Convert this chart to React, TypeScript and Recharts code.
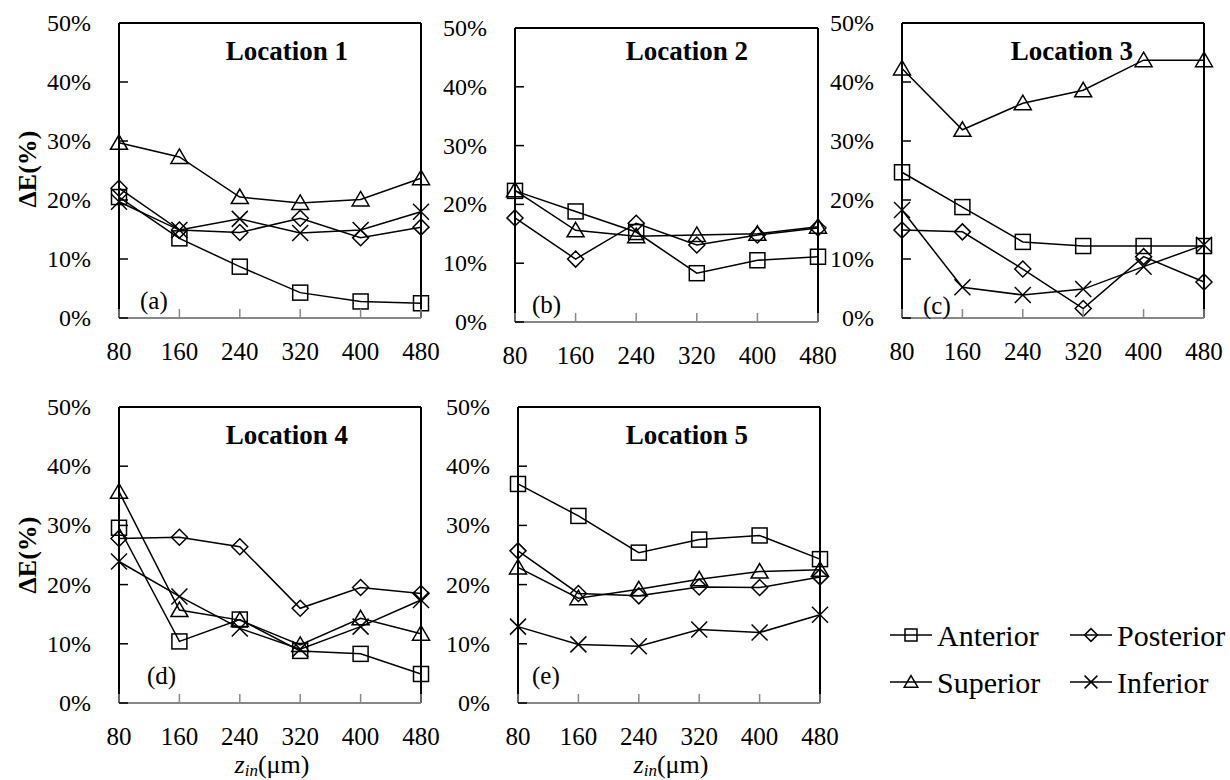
import React from 'react';
import { LineChart, Line, XAxis, YAxis, ReferenceLine } from 'recharts';

const ZIN = [80, 160, 240, 320, 400, 480];
const Y_TICKS = [0, 10, 20, 30, 40, 50];
const SERIES = ['Anterior', 'Posterior', 'Superior', 'Inferior'];

// ΔE (%) per location, one array per direction
const LOC1_ANTERIOR = [20.5, 13.5, 8.7, 4.3, 2.8, 2.5];
const LOC1_POSTERIOR = [22.0, 14.9, 14.5, 16.9, 13.6, 15.4];
const LOC1_SUPERIOR = [29.7, 27.3, 20.5, 19.5, 20.1, 23.7];
const LOC1_INFERIOR = [19.7, 14.9, 16.8, 14.4, 14.9, 18.0];

const LOC2_ANTERIOR = [22.3, 18.8, 15.3, 8.3, 10.5, 11.1];
const LOC2_POSTERIOR = [17.7, 10.7, 16.8, 13.1, 14.8, 16.0];
const LOC2_SUPERIOR = [22.4, 15.6, 14.6, 14.8, 15.0, 16.2];
const LOC2_INFERIOR: number[] = []; // not plotted at location 2

const LOC3_ANTERIOR = [24.7, 18.8, 12.9, 12.2, 12.2, 12.2];
const LOC3_POSTERIOR = [14.9, 14.6, 8.3, 1.6, 10.4, 6.1];
const LOC3_SUPERIOR = [42.3, 31.9, 36.4, 38.6, 43.7, 43.7];
const LOC3_INFERIOR = [18.3, 5.2, 3.9, 4.9, 8.7, 12.4];

const LOC4_ANTERIOR = [29.6, 10.4, 14.1, 8.8, 8.3, 4.9];
const LOC4_POSTERIOR = [27.8, 28.0, 26.4, 16.0, 19.5, 18.5];
const LOC4_SUPERIOR = [35.7, 15.7, 14.0, 9.8, 14.3, 11.7];
const LOC4_INFERIOR = [23.9, 18.0, 12.6, 9.1, 12.9, 17.4];

const LOC5_ANTERIOR = [37.0, 31.6, 25.4, 27.6, 28.3, 24.3];
const LOC5_POSTERIOR = [25.7, 18.5, 18.1, 19.6, 19.5, 21.3];
const LOC5_SUPERIOR = [22.9, 17.7, 19.2, 20.9, 22.2, 22.5];
const LOC5_INFERIOR = [12.9, 9.9, 9.6, 12.4, 11.9, 14.9];

const FONT = 'Liberation Serif, Tinos, Times New Roman, DejaVu Serif, serif';
const SHAPES = ['square', 'diamond', 'triangle', 'cross'];

const buildRows = (a: number[], p: number[], s: number[], inf: number[]) =>
  ZIN.map((z, i) => ({ zin: z, Anterior: a[i], Posterior: p[i], Superior: s[i], Inferior: inf[i] }));

// plot-area boxes (left, top, right, bottom) in page pixels
const PANELS = [
  { title: 'Location 1', tag: '(a)', box: [119, 23, 421, 318], titleAt: [287, 51], tagAt: [140, 300], series: SERIES, rows: buildRows(LOC1_ANTERIOR, LOC1_POSTERIOR, LOC1_SUPERIOR, LOC1_INFERIOR) },
  { title: 'Location 2', tag: '(b)', box: [515, 28, 818, 322], titleAt: [687, 51], tagAt: [532, 304], series: SERIES.slice(0, 3), rows: buildRows(LOC2_ANTERIOR, LOC2_POSTERIOR, LOC2_SUPERIOR, LOC2_INFERIOR) },
  { title: 'Location 3', tag: '(c)', box: [902, 23, 1204, 318], titleAt: [1072, 51], tagAt: [923, 305], series: SERIES, rows: buildRows(LOC3_ANTERIOR, LOC3_POSTERIOR, LOC3_SUPERIOR, LOC3_INFERIOR) },
  { title: 'Location 4', tag: '(d)', box: [119, 407, 421, 703], titleAt: [287, 435], tagAt: [147, 675], series: SERIES, rows: buildRows(LOC4_ANTERIOR, LOC4_POSTERIOR, LOC4_SUPERIOR, LOC4_INFERIOR) },
  { title: 'Location 5', tag: '(e)', box: [518, 407, 820, 703], titleAt: [687, 435], tagAt: [532, 675], series: SERIES, rows: buildRows(LOC5_ANTERIOR, LOC5_POSTERIOR, LOC5_SUPERIOR, LOC5_INFERIOR) },
];

const PAD_L = 100;
const PAD_T = 20;
const PAD_R = 20;
const PAD_B = 60;
const Y_GAP = 28;
const X_GAP = 20;

const Marker = ({ shape, cx, cy, k = 1 }: { shape: string; cx: number; cy: number; k?: number }) => {
  const common = { fill: 'none', stroke: '#000', strokeWidth: 1.5 };
  if (shape === 'square') {
    const h = 7.5 * k;
    return <rect x={cx - h} y={cy - h} width={2 * h} height={2 * h} {...common} />;
  }
  if (shape === 'diamond') {
    const h = 8 * k;
    return <polygon points={`${cx},${cy - h} ${cx + h},${cy} ${cx},${cy + h} ${cx - h},${cy}`} {...common} />;
  }
  if (shape === 'triangle') {
    const w = 8.5 * k;
    return <polygon points={`${cx},${cy - 8 * k} ${cx + w},${cy + 6.5 * k} ${cx - w},${cy + 6.5 * k}`} {...common} />;
  }
  const h = 8 * k;
  return (
    <g {...common}>
      <line x1={cx - h} y1={cy - h} x2={cx + h} y2={cy + h} />
      <line x1={cx - h} y1={cy + h} x2={cx + h} y2={cy - h} />
    </g>
  );
};

const YTick = (props: any) => {
  const { x, y, payload } = props;
  return (
    <g>
      <line x1={x + Y_GAP} x2={x + Y_GAP + 9} y1={y} y2={y} stroke="#000" strokeWidth={1.5} />
      <text x={x} y={y} textAnchor="end" dominantBaseline="central" style={{ fontSize: 24, fontFamily: FONT }} fill="#000">
        {payload.value}%
      </text>
    </g>
  );
};

const XTick = (props: any) => {
  const { x, y, payload } = props;
  return (
    <g>
      <line x1={x} x2={x} y1={y - X_GAP} y2={y - X_GAP - 9} stroke="#888" strokeWidth={1.5} />
      <text x={x} y={y + 13} textAnchor="middle" dominantBaseline="central" style={{ fontSize: 25, fontFamily: FONT }} fill="#000">
        {payload.value}
      </text>
    </g>
  );
};

const Panel = ({ panel }: { panel: (typeof PANELS)[number] }) => {
  const [l, t, r, b] = panel.box;
  const width = r - l + PAD_L + PAD_R;
  const height = b - t + PAD_T + PAD_B;
  return (
    <div style={{ position: 'absolute', left: l - PAD_L, top: t - PAD_T }}>
      <LineChart width={width} height={height} data={panel.rows} margin={{ top: PAD_T, right: PAD_R, bottom: 0, left: 0 }}>
        <XAxis
          dataKey="zin"
          type="number"
          domain={[80, 480]}
          ticks={ZIN}
          interval={0}
          height={PAD_B}
          tickSize={0}
          tickMargin={X_GAP}
          tickLine={false}
          axisLine={{ stroke: '#888', strokeWidth: 2 }}
          tick={<XTick />}
        />
        <YAxis
          type="number"
          domain={[0, 50]}
          ticks={Y_TICKS}
          interval={0}
          width={PAD_L}
          tickSize={0}
          tickMargin={Y_GAP}
          tickLine={false}
          axisLine={{ stroke: '#000', strokeWidth: 2 }}
          tick={<YTick />}
        />
        <ReferenceLine y={50} stroke="#000" strokeWidth={2} />
        <ReferenceLine x={480} stroke="#000" strokeWidth={2} />
        {panel.series.map((name) => {
          const si = SERIES.indexOf(name);
          return (
            <Line
              key={name}
              dataKey={name}
              stroke="#000"
              strokeWidth={1.5}
              isAnimationActive={false}
              activeDot={false}
              dot={(p: any) => <Marker key={`${name}-${p.index}`} shape={SHAPES[si]} cx={p.cx} cy={p.cy} />}
            />
          );
        })}
      </LineChart>
    </div>
  );
};

const Overlay = () => (
  <svg width={1230} height={780} style={{ position: 'absolute', left: 0, top: 0, pointerEvents: 'none', fontFamily: FONT }}>
    {PANELS.map((p) => (
      <g key={p.title}>
        <text x={p.titleAt[0]} y={p.titleAt[1]} textAnchor="middle" dominantBaseline="central" style={{ fontSize: 27, fontWeight: 'bold' }}>
          {p.title}
        </text>
        <text x={p.tagAt[0]} y={p.tagAt[1]} dominantBaseline="central" style={{ fontSize: 25 }}>
          {p.tag}
        </text>
      </g>
    ))}
    {[169, 555].map((cy) => (
      <text key={cy} x={27} y={cy} transform={`rotate(-90, 27, ${cy})`} textAnchor="middle" dominantBaseline="central" style={{ fontSize: 26, fontWeight: 'bold' }}>
        ΔE(%)
      </text>
    ))}
    {[272, 671].map((cx) => (
      <text key={cx} x={cx} y={764} textAnchor="middle" dominantBaseline="central" style={{ fontSize: 26 }}>
        <tspan fontStyle="italic">z</tspan>
        <tspan fontStyle="italic" fontSize={17} dy={6}>in</tspan>
        <tspan dy={-6}>(μm)</tspan>
      </text>
    ))}
    {SERIES.map((name, i) => {
      const x0 = i % 2 === 0 ? 890 : 1070;
      const y0 = i < 2 ? 635 : 682;
      return (
        <g key={name}>
          <line x1={x0} x2={x0 + 42} y1={y0} y2={y0} stroke="#000" strokeWidth={1.5} />
          <Marker shape={SHAPES[i]} cx={x0 + 21} cy={y0} k={0.8} />
          <text x={x0 + 47} y={y0} dominantBaseline="central" style={{ fontSize: 30 }}>
            {name}
          </text>
        </g>
      );
    })}
  </svg>
);

export default function App() {
  return (
    <div style={{ position: 'absolute', left: 0, top: 0, width: 1230, height: 780, background: '#fff', fontFamily: FONT }}>
      {PANELS.map((p) => (
        <Panel key={p.title} panel={p} />
      ))}
      <Overlay />
    </div>
  );
}
